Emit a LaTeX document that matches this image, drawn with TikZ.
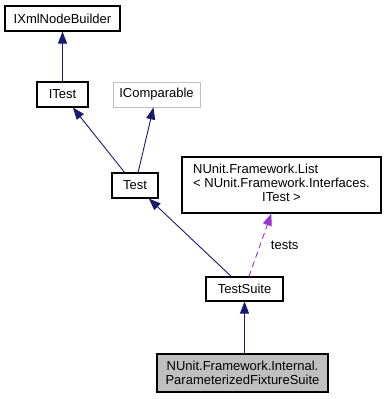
\documentclass[tikz,border=0pt]{standalone}
\usepackage{fontspec}
\setmainfont{Liberation Sans}
\usetikzlibrary{arrows.meta}

\definecolor{edgeblue}{HTML}{191970}
\definecolor{usepurple}{HTML}{9A32CD}
\definecolor{boxgrey}{HTML}{BFBFBF}

\begin{document}
\begin{tikzpicture}[x=1pt, y=-1pt,
        cls/.style={draw, line width=1.1pt, fill=white, inner sep=0pt,
            font=\fontsize{13}{14}\selectfont},
        inherit/.style={edgeblue, line width=0.9pt,
            -{Triangle[length=12pt, width=9pt]}},
        uses/.style={usepurple, line width=0.9pt, dash pattern=on 6pt off 4pt,
            -{Triangle[length=12pt, width=9pt]}}]
        \useasboundingbox (0,0) rectangle (387,399);

        \node[cls, minimum width=115, minimum height=25] (xmlbuilder) at (62.5,18.5) {IXmlNodeBuilder};
        \node[cls, minimum width=51, minimum height=25] (itest) at (62.5,94.5) {ITest};
        \node[cls, draw=boxgrey, line width=0.8pt, minimum width=87, minimum height=25] (icomparable) at (156.5,94.5) {IComparable};
        \node[cls, minimum width=46, minimum height=25] (test) at (135,185.5) {Test};
        \node[cls, minimum width=199, minimum height=56] (testlist) at (281.5,185)
            {\begin{tabular}{@{}l@{}}NUnit.Framework.List\\\textless{} NUnit.Framework.Interfaces.\\
             \multicolumn{1}{@{}c@{}}{ITest \textgreater}\end{tabular}};
        \node[cls, minimum width=77, minimum height=24] (suite) at (244.5,289) {TestSuite};
        \node[cls, fill=boxgrey, minimum width=171, minimum height=38, align=center] (fixture) at (242.5,373)
            {NUnit.Framework.Internal.\\ParameterizedFixtureSuite};

        % inheritance
        \draw[inherit] (itest) -- (xmlbuilder);
        \draw[inherit] (test) -- (itest);
        \draw[inherit] (test) -- (icomparable);
        \draw[inherit] (suite) -- (test);
        \draw[inherit] (fixture.north -| suite.south) -- (suite.south);

        % member
        \draw[uses] (suite) -- (testlist) node[pos=0.5, right=7pt, text=black, font=\fontsize{13}{14}\selectfont] {tests};
    \end{tikzpicture}
\end{document}
